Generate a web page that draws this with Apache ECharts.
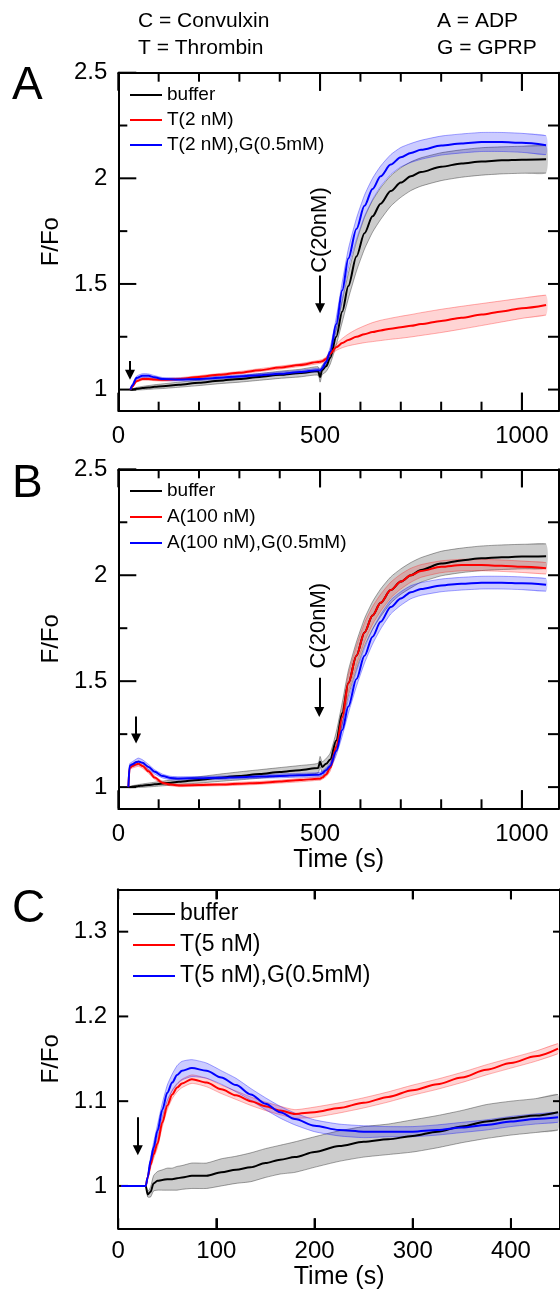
<!DOCTYPE html>
<html>
<head>
<meta charset="utf-8">
<script src="https://cdn.jsdelivr.net/npm/echarts@6/dist/echarts.min.js"></script>
<style>
  html, body { margin: 0; padding: 0; background: #ffffff; }
  #chart { width: 560px; height: 1292px; }
</style>
</head>
<body>
<div id="chart"></div>
<script>
const FONT = '"Liberation Sans", Arial, Helvetica, sans-serif';

// ---------- Panel A: thrombin 2 nM with / without GPRP, convulxin added at 500 s ----------
const timeA = [30, 35, 45, 60, 75, 90, 110, 150, 200, 250, 300, 350, 400, 450, 495, 500, 505, 515, 525, 540,
  555, 570, 590, 610, 630, 650, 675, 700, 725, 750, 800, 850, 900, 950, 1000, 1060];
const bufferA = [1.0, 1.0, 1.004, 1.007, 1.01, 1.013, 1.016, 1.023, 1.032, 1.042, 1.05, 1.06, 1.07, 1.078, 1.088, 1.06, 1.092, 1.11, 1.15, 1.25,
  1.37, 1.49, 1.63, 1.74, 1.82, 1.88, 1.94, 1.98, 2.01, 2.03, 2.055, 2.07, 2.08, 2.085, 2.088, 2.09];
const bufferA_sd = [0.003, 0.004, 0.006, 0.008, 0.009, 0.01, 0.011, 0.012, 0.013, 0.014, 0.015, 0.016, 0.017, 0.018, 0.02, 0.025, 0.022, 0.025, 0.03, 0.04,
  0.05, 0.06, 0.07, 0.075, 0.075, 0.075, 0.072, 0.07, 0.068, 0.067, 0.066, 0.065, 0.065, 0.064, 0.064, 0.065];
const thrA = [1.0, 1.015, 1.04, 1.05, 1.05, 1.048, 1.046, 1.05, 1.06, 1.07, 1.08, 1.092, 1.104, 1.116, 1.13, 1.132, 1.134, 1.145, 1.17, 1.20,
  1.22, 1.235, 1.25, 1.262, 1.272, 1.28, 1.288, 1.295, 1.302, 1.31, 1.325, 1.34, 1.355, 1.37, 1.385, 1.40];
const thrA_sd = [0.003, 0.005, 0.006, 0.006, 0.006, 0.006, 0.006, 0.006, 0.006, 0.006, 0.006, 0.007, 0.007, 0.007, 0.008, 0.008, 0.008, 0.009, 0.01, 0.015,
  0.022, 0.028, 0.035, 0.04, 0.045, 0.048, 0.05, 0.052, 0.053, 0.054, 0.055, 0.054, 0.052, 0.05, 0.048, 0.047];
const thrGprpA = [1.0, 1.02, 1.055, 1.066, 1.065, 1.058, 1.05, 1.048, 1.05, 1.056, 1.062, 1.068, 1.075, 1.083, 1.092, 1.09, 1.10, 1.13, 1.18, 1.31,
  1.47, 1.62, 1.76, 1.87, 1.95, 2.01, 2.065, 2.10, 2.12, 2.135, 2.155, 2.165, 2.172, 2.172, 2.168, 2.157];
const thrGprpA_sd = [0.003, 0.006, 0.008, 0.009, 0.009, 0.008, 0.007, 0.007, 0.007, 0.007, 0.007, 0.008, 0.008, 0.008, 0.009, 0.01, 0.01, 0.015, 0.02, 0.03,
  0.04, 0.045, 0.05, 0.05, 0.05, 0.048, 0.047, 0.046, 0.045, 0.045, 0.045, 0.045, 0.045, 0.045, 0.045, 0.045];

// ---------- Panel B: ADP 100 nM with / without GPRP, convulxin added at 500 s ----------
const timeB = [25, 28, 35, 45, 50, 60, 75, 90, 110, 130, 150, 200, 250, 300, 350, 400, 450, 495, 500, 505,
  515, 525, 540, 555, 570, 590, 610, 630, 650, 675, 700, 725, 750, 800, 850, 900, 950, 1000, 1060];
const bufferB = [1.0, 1.0, 1.002, 1.004, 1.005, 1.007, 1.01, 1.013, 1.017, 1.021, 1.025, 1.034, 1.044, 1.053, 1.062, 1.071, 1.08, 1.09, 1.12, 1.095,
  1.11, 1.13, 1.22, 1.35, 1.49, 1.62, 1.73, 1.81, 1.87, 1.93, 1.97, 2.0, 2.025, 2.055, 2.07, 2.08, 2.085, 2.088, 2.09];
const bufferB_sd = [0.003, 0.003, 0.005, 0.006, 0.007, 0.008, 0.009, 0.01, 0.011, 0.012, 0.013, 0.015, 0.017, 0.019, 0.02, 0.021, 0.022, 0.023, 0.025, 0.024,
  0.025, 0.03, 0.04, 0.05, 0.06, 0.065, 0.065, 0.065, 0.065, 0.062, 0.06, 0.06, 0.058, 0.058, 0.058, 0.058, 0.058, 0.058, 0.058];
const adpB = [1.0, 1.09, 1.10, 1.108, 1.11, 1.10, 1.075, 1.045, 1.02, 1.012, 1.008, 1.01, 1.012, 1.016, 1.02, 1.026, 1.033, 1.04, 1.04, 1.045,
  1.06, 1.09, 1.19, 1.33, 1.49, 1.62, 1.73, 1.81, 1.87, 1.93, 1.97, 2.0, 2.02, 2.04, 2.048, 2.048, 2.045, 2.04, 2.033];
const adpB_sd = [0.003, 0.008, 0.01, 0.012, 0.012, 0.011, 0.01, 0.008, 0.007, 0.006, 0.006, 0.006, 0.006, 0.007, 0.007, 0.007, 0.008, 0.008, 0.008, 0.008,
  0.01, 0.015, 0.025, 0.035, 0.04, 0.045, 0.045, 0.042, 0.04, 0.037, 0.035, 0.033, 0.03, 0.028, 0.027, 0.027, 0.027, 0.027, 0.027];
const adpGprpB = [1.0, 1.10, 1.108, 1.118, 1.121, 1.115, 1.095, 1.072, 1.052, 1.043, 1.041, 1.042, 1.044, 1.047, 1.05, 1.053, 1.056, 1.058, 1.06, 1.065,
  1.08, 1.10, 1.17, 1.27, 1.38, 1.51, 1.62, 1.71, 1.78, 1.85, 1.89, 1.92, 1.935, 1.952, 1.96, 1.965, 1.965, 1.962, 1.955];
const adpGprpB_sd = [0.003, 0.01, 0.012, 0.015, 0.016, 0.014, 0.012, 0.01, 0.009, 0.008, 0.008, 0.008, 0.008, 0.008, 0.008, 0.009, 0.009, 0.01, 0.01, 0.01,
  0.012, 0.015, 0.02, 0.028, 0.032, 0.035, 0.035, 0.035, 0.034, 0.033, 0.032, 0.031, 0.03, 0.03, 0.03, 0.03, 0.03, 0.03, 0.03];

// ---------- Panel C: thrombin 5 nM with / without GPRP ----------
const timeC = [3, 10, 20, 28, 30, 33, 36, 40, 45, 50, 55, 60, 65, 75, 90, 105, 120, 135, 150, 165,
  180, 200, 225, 250, 275, 300, 325, 350, 375, 400, 425, 448];
const bufferC = [1.0, 1.0, 1.0, 1.0, 0.99, 0.993, 1.003, 1.006, 1.007, 1.008, 1.008, 1.009, 1.01, 1.012, 1.012, 1.016, 1.019, 1.022, 1.027, 1.031,
  1.034, 1.04, 1.047, 1.052, 1.055, 1.059, 1.064, 1.07, 1.076, 1.08, 1.083, 1.087];
const bufferC_sd = [0, 0, 0, 0, 0.003, 0.006, 0.009, 0.011, 0.012, 0.013, 0.013, 0.014, 0.014, 0.015, 0.015, 0.016, 0.016, 0.017, 0.017, 0.017,
  0.018, 0.018, 0.018, 0.018, 0.018, 0.019, 0.019, 0.019, 0.02, 0.02, 0.02, 0.021];
const thrC = [1.0, 1.0, 1.0, 1.0, 1.01, 1.025, 1.037, 1.05, 1.075, 1.095, 1.108, 1.116, 1.121, 1.126, 1.122, 1.114, 1.107, 1.1, 1.094, 1.089,
  1.085, 1.087, 1.092, 1.098, 1.105, 1.113, 1.12, 1.128, 1.137, 1.145, 1.153, 1.162];
const thrC_sd = [0, 0, 0, 0, 0.002, 0.004, 0.005, 0.005, 0.005, 0.005, 0.005, 0.005, 0.005, 0.005, 0.005, 0.005, 0.005, 0.005, 0.005, 0.005,
  0.005, 0.006, 0.006, 0.006, 0.006, 0.006, 0.006, 0.006, 0.006, 0.006, 0.006, 0.006];
const thrGprpC = [1.0, 1.0, 1.0, 1.0, 1.01, 1.03, 1.045, 1.065, 1.09, 1.11, 1.122, 1.131, 1.136, 1.139, 1.136, 1.128, 1.119, 1.108, 1.097, 1.087,
  1.079, 1.071, 1.066, 1.064, 1.064, 1.064, 1.066, 1.069, 1.072, 1.076, 1.079, 1.081];
const thrGprpC_sd = [0, 0, 0, 0, 0.002, 0.004, 0.006, 0.007, 0.008, 0.009, 0.01, 0.011, 0.011, 0.01, 0.009, 0.008, 0.008, 0.007, 0.007, 0.007,
  0.007, 0.007, 0.007, 0.007, 0.006, 0.006, 0.006, 0.006, 0.006, 0.006, 0.006, 0.006];

// ---------- tick labels and tick marks ----------
const xMajorAB = [0, 500, 1000];
const xMinorAB = [100, 200, 300, 400, 600, 700, 800, 900];
const yMajorAB = [1, 1.5, 2, 2.5];
const yMinorAB = [1.25, 1.75, 2.25];
const yRightAB = [1, 1.25, 1.5, 1.75, 2, 2.25];
const xMajorC = [0, 100, 200, 300, 400];
const yMajorC = [1, 1.1, 1.2, 1.3];

const namesA = ['buffer', 'T(2 nM)', 'T(2 nM),G(0.5mM)'];
const namesB = ['buffer', 'A(100 nM)', 'A(100 nM),G(0.5mM)'];
const namesC = ['buffer', 'T(5 nM)', 'T(5 nM),G(0.5mM)'];

const BLACK = '#000000', RED = '#ff0000', BLUE = '#0000ff';
const bandFill = { k: 'rgba(0,0,0,0.2)', r: 'rgba(255,0,0,0.17)', b: 'rgba(0,0,255,0.2)' };
const bandEdge = { k: 'rgba(0,0,0,0.35)', r: 'rgba(255,0,0,0.3)', b: 'rgba(0,0,255,0.35)' };

const grids = [
  { left: 118.3, top: 72.7, width: 440.7, height: 338 },
  { left: 118.3, top: 469.3, width: 440.7, height: 339 },
  { left: 118.2, top: 889.3, width: 443.3, height: 339 }
];

const xAxes = [], yAxes = [];
const frameLine = { show: true, onZero: false, lineStyle: { color: '#000', width: 2 } };
const tickStyle = { color: '#000', width: 2 };
const tickLabel = { color: '#000', fontSize: 24, fontFamily: FONT, formatter: v => String(v) };

// one bottom/top pair and one left/right pair of axes per panel
function panelAxes(g, c) {
  xAxes.push({
    gridIndex: g, type: 'value', min: c.xMin, max: c.xMax, interval: c.xStep, position: 'bottom', splitLine: { show: false },
    axisLine: frameLine, axisTick: { show: true, inside: true, length: c.major, lineStyle: tickStyle },
    axisLabel: Object.assign({ show: true, customValues: c.xLabels, margin: c.xLabelGap }, tickLabel),
    name: c.xName || '', nameLocation: 'middle', nameGap: c.xNameGap || 30,
    nameTextStyle: { color: '#000', fontSize: 25, fontFamily: FONT }
  });
  const xMain = xAxes.length - 1;
  xAxes.push({
    gridIndex: g, type: 'value', min: c.xMin, max: c.xMax, interval: c.xStep, position: 'top', splitLine: { show: false },
    axisLine: frameLine, axisTick: { show: true, inside: true, length: c.major, lineStyle: tickStyle }, axisLabel: { show: false }
  });
  yAxes.push({
    gridIndex: g, type: 'value', min: c.yMin, max: c.yMax, position: 'left', splitLine: { show: false },
    axisLine: frameLine, axisTick: { show: false },
    axisLabel: Object.assign({ show: true, customValues: c.yLabels, margin: 11 }, tickLabel),
    name: 'F/Fo', nameLocation: 'middle', nameGap: 44,
    nameTextStyle: { color: '#000', fontSize: 24, fontFamily: FONT }
  });
  const yMain = yAxes.length - 1;
  yAxes.push({
    gridIndex: g, type: 'value', min: c.yMin, max: c.yMax, position: 'right', splitLine: { show: false },
    axisLine: frameLine, axisTick: { show: false }, axisLabel: { show: false }
  });
  return { x: xMain, y: yMain };
}

const cfgA = { xMin: 0, xMax: 1092, xStep: 500, yMin: 0.9, yMax: 2.5, xLabels: xMajorAB, yLabels: yMajorAB, xLabelGap: 14, major: 18 };
const cfgB = { xMin: 0, xMax: 1092, xStep: 500, yMin: 0.9, yMax: 2.5, xLabels: xMajorAB, yLabels: yMajorAB, xLabelGap: 14, major: 18,
  xName: 'Time (s)', xNameGap: 39 };
const cfgC = { xMin: 0, xMax: 450, xStep: 100, yMin: 0.95, yMax: 1.35, xLabels: xMajorC, yLabels: yMajorC, xLabelGap: 11, major: 10,
  xName: 'Time (s)', xNameGap: 34 };
const axA = panelAxes(0, cfgA);
const axB = panelAxes(1, cfgB);
const axC = panelAxes(2, cfgC);

// inward tick marks on all four sides; each item is [x, y, dx, dy] with the pixel direction of the mark
function tickMarks(ax, c, t) {
  const items = [];
  t.xMajor.forEach(v => { items.push([v, c.yMin, 0, -t.major]); items.push([v, c.yMax, 0, t.major]); });
  (t.xMinor || []).forEach(v => { items.push([v, c.yMin, 0, -t.minor]); items.push([v, c.yMax, 0, t.minor]); });
  t.yMajor.forEach(v => items.push([c.xMin, v, t.major, 0]));
  (t.yMinor || []).forEach(v => items.push([c.xMin, v, t.minor, 0]));
  t.yRight.forEach(v => items.push([c.xMax, v, -t.right, 0]));
  return {
    type: 'custom', xAxisIndex: ax.x, yAxisIndex: ax.y, clip: false,
    encode: { x: 0, y: 1 },
    data: items,
    renderItem: function (params, api) {
      const p = api.coord([api.value(0), api.value(1)]);
      return {
        type: 'line',
        shape: { x1: p[0], y1: p[1], x2: p[0] + api.value(2), y2: p[1] + api.value(3) },
        style: { stroke: '#000', lineWidth: 2 }
      };
    }
  };
}

// shaded mean ± SD band drawn as one polygon through the axis scales
function band(ax, t, mean, sd, key) {
  return {
    type: 'custom', xAxisIndex: ax.x, yAxisIndex: ax.y, silent: true, clip: true, z: 1,
    data: [[t[0], mean[0]]],
    renderItem: function (params, api) {
      const up = t.map((x, i) => api.coord([x, mean[i] + sd[i]]));
      const lo = t.map((x, i) => api.coord([x, mean[i] - sd[i]]));
      return {
        type: 'group',
        children: [
          { type: 'polygon', shape: { points: up.concat(lo.slice().reverse()), smooth: 0.2 }, style: { fill: bandFill[key] } },
          { type: 'polyline', shape: { points: up, smooth: 0.2 }, style: { stroke: bandEdge[key], fill: null, lineWidth: 1 } },
          { type: 'polyline', shape: { points: lo, smooth: 0.2 }, style: { stroke: bandEdge[key], fill: null, lineWidth: 1 } }
        ]
      };
    }
  };
}

function trace(ax, name, t, v, color, extra) {
  return Object.assign({
    type: 'line', name: name, xAxisIndex: ax.x, yAxisIndex: ax.y,
    data: t.map((x, i) => [x, v[i]]),
    showSymbol: false, symbol: 'none', smooth: 0.3, smoothMonotone: 'x',
    lineStyle: { color: color, width: 2 }, itemStyle: { color: color },
    silent: true, clip: true, z: 3
  }, extra || {});
}

// injection arrows, placed in data coordinates
function arrows(list) {
  return {
    silent: true, symbol: ['none', 'triangle'], symbolSize: 10,
    lineStyle: { color: '#000', width: 2, type: 'solid' },
    itemStyle: { color: '#000' },
    label: { show: false },
    data: list.map(a => [{ coord: [a[0], a[1]] }, { coord: [a[0], a[2]] }])
  };
}

const series = [
  band(axA, timeA, bufferA, bufferA_sd, 'k'),
  band(axA, timeA, thrA, thrA_sd, 'r'),
  band(axA, timeA, thrGprpA, thrGprpA_sd, 'b'),
  trace(axA, namesA[0], timeA, bufferA, BLACK, { markLine: arrows([[29, 1.135, 1.07], [500, 1.54, 1.385]]) }),
  trace(axA, namesA[1], timeA, thrA, RED),
  trace(axA, namesA[2], timeA, thrGprpA, BLUE),
  tickMarks(axA, cfgA, { xMajor: xMajorAB, xMinor: xMinorAB, yMajor: yMajorAB, yMinor: yMinorAB, yRight: yRightAB, major: 18, minor: 9, right: 11 }),

  band(axB, timeB, bufferB, bufferB_sd, 'k'),
  band(axB, timeB, adpB, adpB_sd, 'r'),
  band(axB, timeB, adpGprpB, adpGprpB_sd, 'b'),
  trace(axB, namesB[0], timeB, bufferB, BLACK, { markLine: arrows([[44, 1.333, 1.23], [498, 1.516, 1.355]]) }),
  trace(axB, namesB[1], timeB, adpB, RED),
  trace(axB, namesB[2], timeB, adpGprpB, BLUE),
  tickMarks(axB, cfgB, { xMajor: xMajorAB, xMinor: xMinorAB, yMajor: yMajorAB, yMinor: yMinorAB, yRight: yRightAB, major: 18, minor: 9, right: 11 }),

  band(axC, timeC, bufferC, bufferC_sd, 'k'),
  band(axC, timeC, thrC, thrC_sd, 'r'),
  band(axC, timeC, thrGprpC, thrGprpC_sd, 'b'),
  trace(axC, namesC[0], timeC, bufferC, BLACK, { markLine: arrows([[20, 1.081, 1.042]]) }),
  trace(axC, namesC[1], timeC, thrC, RED),
  trace(axC, namesC[2], timeC, thrGprpC, BLUE),
  tickMarks(axC, cfgC, { xMajor: xMajorC, yMajor: yMajorC, yRight: yMajorC, major: 10, right: 7 })
];

function legendBox(names, left, top, w, size, rowH) {
  return {
    orient: 'vertical', left: left, top: top, padding: 0, itemGap: 0,
    itemWidth: w, itemHeight: 2, icon: 'rect', selectedMode: false,
    data: names,
    textStyle: { color: '#000', fontSize: size, lineHeight: rowH, fontFamily: FONT }
  };
}

function txt(text, x, y, size) {
  return {
    type: 'text', x: x, y: y, silent: true, z: 10,
    style: { text: text, fill: '#000', font: size + 'px ' + FONT, align: 'left', verticalAlign: 'middle' }
  };
}
// pixel position of a data point inside a panel, from the grid box and the axis range
function panelPoint(g, c, x, y) {
  const b = grids[g];
  return [b.left + (x - c.xMin) / (c.xMax - c.xMin) * b.width, b.top + (c.yMax - y) / (c.yMax - c.yMin) * b.height];
}
function rotated(text, p, size) {
  return {
    type: 'text', x: p[0], y: p[1], rotation: Math.PI / 2, silent: true, z: 10,
    style: { text: text, fill: '#000', font: size + 'px ' + FONT, align: 'center', verticalAlign: 'middle' }
  };
}

const chart = echarts.init(document.getElementById('chart'));
chart.setOption({
  animation: false,
  backgroundColor: '#ffffff',
  grid: grids,
  xAxis: xAxes,
  yAxis: yAxes,
  legend: [
    legendBox(namesA, 130, 82.5, 32, 19, 25),
    legendBox(namesB, 130, 478, 32, 19, 26),
    legendBox(namesC, 133, 898.5, 42, 23, 31)
  ],
  graphic: [
    txt('C = Convulxin', 138, 21, 21),
    txt('T = Thrombin', 138, 48, 21),
    txt('A = ADP', 437, 21, 21),
    txt('G = GPRP', 437, 48, 21),
    txt('A', 12, 86, 46),
    txt('B', 12, 484, 46),
    txt('C', 12, 909, 46),
    rotated('C(20nM)', panelPoint(0, cfgA, 500, 1.755), 22),
    rotated('C(20nM)', panelPoint(1, cfgB, 496, 1.762), 22)
  ],
  series: series
});
</script>
</body>
</html>
